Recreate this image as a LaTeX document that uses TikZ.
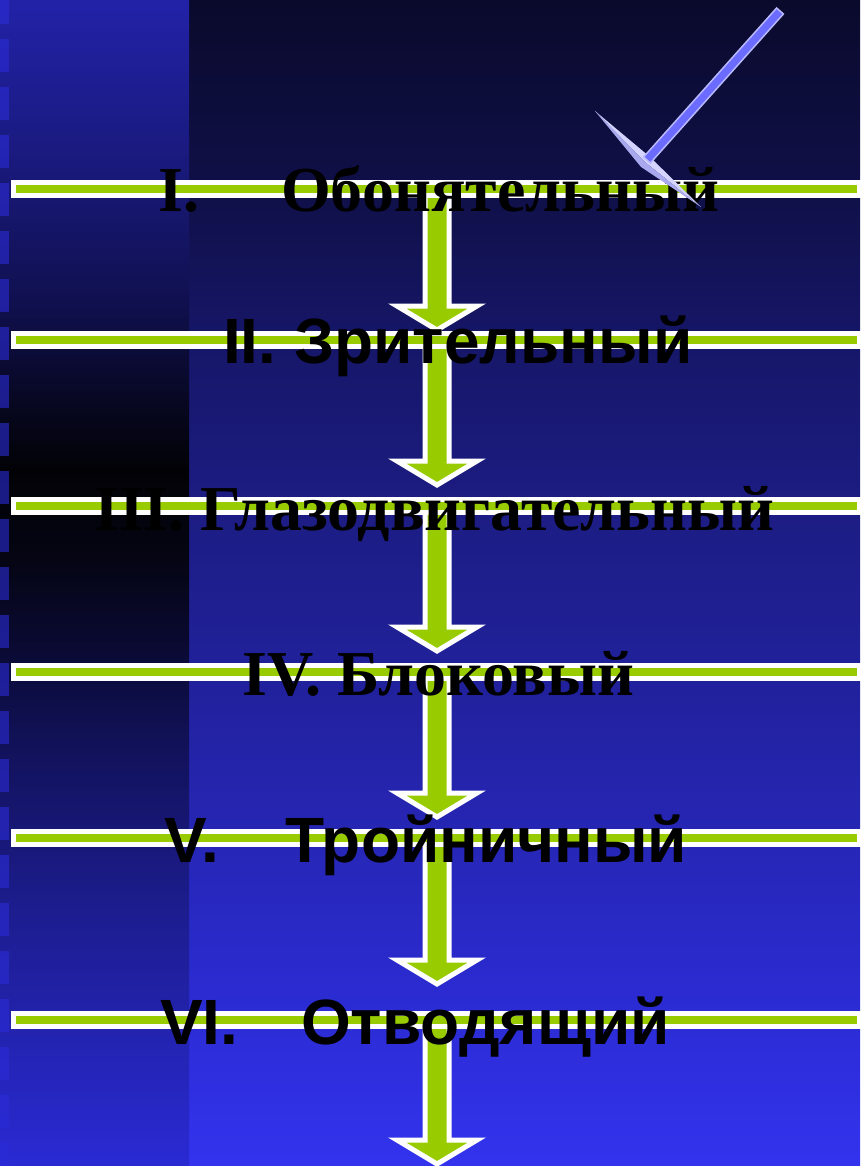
\documentclass[tikz,border=0pt]{standalone}
\usepackage{fontspec}
\setmainfont{Liberation Serif}
\setsansfont{Liberation Sans}

% background colours, top to bottom
\definecolor{mA}{HTML}{0A0A2C}
\definecolor{mB}{HTML}{10104A}
\definecolor{mC}{HTML}{161668}
\definecolor{mD}{HTML}{1C1C82}
\definecolor{mE}{HTML}{21219C}
\definecolor{mF}{HTML}{2626B6}
\definecolor{mG}{HTML}{2C2CD6}
\definecolor{mH}{HTML}{3333EE}

\definecolor{pA}{HTML}{2222A8}
\definecolor{pB}{HTML}{1A1A80}
\definecolor{pC}{HTML}{101050}
\definecolor{pD}{HTML}{06061A}
\definecolor{pE}{HTML}{020206}
\definecolor{pF}{HTML}{050514}
\definecolor{pG}{HTML}{0A0A34}
\definecolor{pH}{HTML}{111158}
\definecolor{pI}{HTML}{1C1C8C}
\definecolor{pJ}{HTML}{2A2AD4}

\definecolor{barGreen}{HTML}{99CC00}
\definecolor{tickFill}{HTML}{6B6BFF}
\definecolor{tickEdge}{HTML}{B8B8FF}
\definecolor{tickLight}{HTML}{D4D4FF}
\definecolor{tickShade}{HTML}{A8A8EE}
\definecolor{stripBlue}{HTML}{2B2BD8}

\pgfdeclareverticalshading{mainbg}{100bp}{%
  color(0bp)=(mH); color(25bp)=(mH); color(31.26bp)=(mG); color(38.98bp)=(mF);
  color(45.84bp)=(mE); color(53.56bp)=(mD); color(60.42bp)=(mC); color(66.42bp)=(mB);
  color(75bp)=(mA); color(100bp)=(mA)}
\pgfdeclareverticalshading{panelbg}{100bp}{%
  color(0bp)=(pJ); color(25bp)=(pJ); color(36.40bp)=(pI); color(43.27bp)=(pH);
  color(47.13bp)=(pG); color(50.99bp)=(pF); color(54.85bp)=(pE); color(56.99bp)=(pD);
  color(62.14bp)=(pC); color(68.57bp)=(pB); color(75bp)=(pA); color(100bp)=(pA)}

\tikzset{
  levelbar/.style={draw=white, line width=5pt, fill=barGreen, inner sep=0pt,
    minimum width=846pt, minimum height=13pt},
  flowarrow/.style={draw=white, line width=5pt, fill=barGreen, line join=miter},
  serifname/.style={font=\rmfamily\bfseries\fontsize{64}{70}\selectfont,
    text=black, anchor=base west, inner sep=0pt},
  sansname/.style={font=\sffamily\bfseries\fontsize{64}{70}\selectfont,
    text=black, anchor=base west, inner sep=0pt},
}

\begin{document}
\begin{tikzpicture}[x=1pt, y=-1pt]
\useasboundingbox (0,0) rectangle (860,1166);

% backdrop: wide field and darker side panel
\shade[shading=mainbg] (189,0) rectangle (860,1166);
\shade[shading=panelbg] (0,0) rectangle (189,1166);
\foreach \k in {0,...,24}
  \fill[stripBlue, opacity=0.6] (0,{-9+48*\k}) rectangle (9,{24+48*\k});

% horizontal level bars
\foreach \n/\y in {1/189, 2/340, 3/506, 4/672, 5/838, 6/1020}
  \path (436.5,\y) coordinate (lvl\n);

% block arrows running down from each bar
\foreach \n/\tip in {1/330, 2/485, 3/651, 4/817, 5/984, 6/1164}{
  \pgfmathsetmacro\headtop{\tip-24}
  \draw[flowarrow] ([xshift=-11.5pt]lvl\n) -- (425,\headtop) -- (397,\headtop)
    -- (437,\tip) -- (477,\headtop) -- (449,\headtop) -- ([xshift=12.5pt]lvl\n);
}

\foreach \n in {1,...,6}
  \node[levelbar] (bar\n) at (lvl\n) {};

% nerve names
\node[serifname] (n1) at (158,212) {\makebox[123pt][l]{I.}Обонятельный};
\node[sansname]  (n2) at (223,363) {II. Зрительный};
\node[serifname] (n3) at (94,530)  {III. Глазодвигательный};
\node[serifname] (n4) at (242,695) {IV. Блоковый};
\node[sansname]  (n5) at (164,862) {\makebox[121pt][l]{V.}Тройничный};
\node[sansname]  (n6) at (160,1044) {\makebox[141pt][l]{VI.}Отводящий};

% tick mark in the corner
\fill[tickLight] (595,111) -- (650,157) -- (701,207) -- (645,162) -- cycle;
\fill[tickShade] (595,111) -- (645,162) -- (701,207) -- (641,167) -- cycle;
\filldraw[fill=tickFill, draw=tickEdge, line width=1.5pt]
  (643.6,157) -- (776.6,8) -- (783.4,14) -- (650.4,163) -- cycle;
\end{tikzpicture}
\end{document}
